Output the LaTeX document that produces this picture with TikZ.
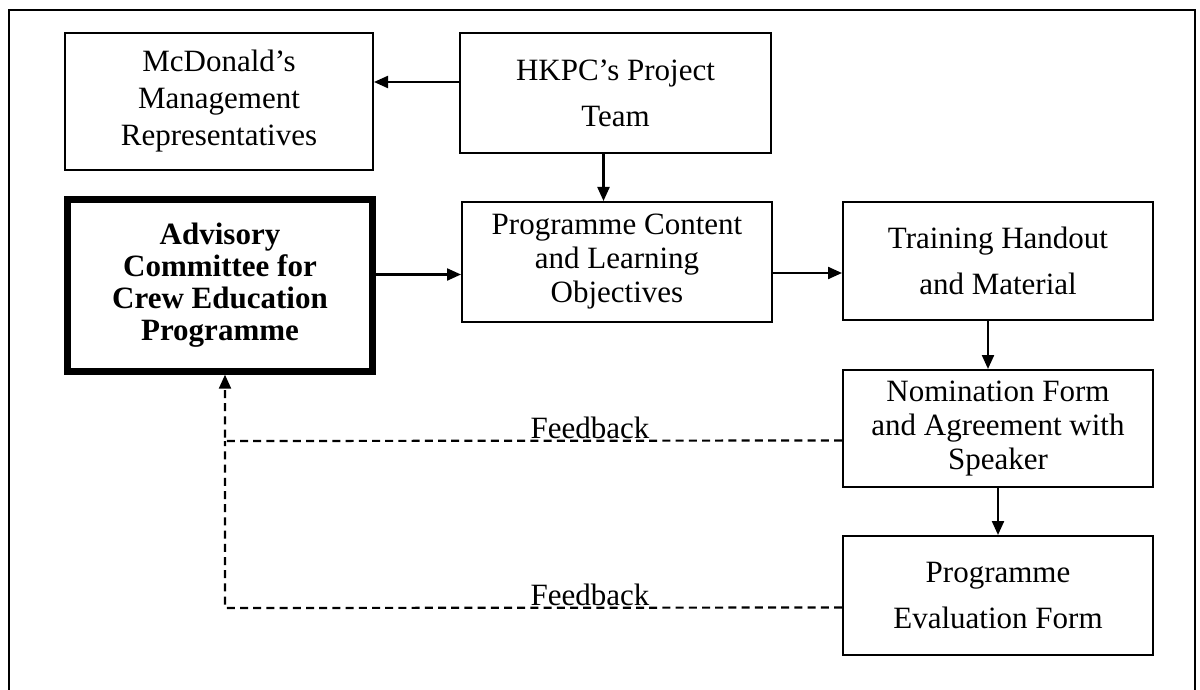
\documentclass[tikz,border=0pt]{standalone}
\usepackage{fontspec}
\setmainfont{Liberation Serif}
\usetikzlibrary{arrows.meta}
\tikzset{
  box/.style={draw, line width=1pt, align=center, inner sep=0pt,
    font=\fontsize{15.5pt}{17pt}\selectfont},
  thickbox/.style={box, line width=3.2pt, font=\fontsize{15.5pt}{16pt}\selectfont\bfseries},
  arr/.style={line width=1.1pt, -{Triangle[length=7pt,width=6pt]}},
  fb/.style={line width=1.1pt, dash pattern=on 4pt off 2.6pt},
  fbarr/.style={fb, -{Triangle[length=7pt,width=6pt]}},
  fblabel/.style={anchor=base, inner sep=0pt, font=\fontsize{15.5pt}{17pt}\selectfont}
}
\begin{document}
\begin{tikzpicture}[x=0.5pt,y=-0.5pt]
\useasboundingbox (0,0) rectangle (1200,690);
% outer frame
\draw[line width=1.1pt] (9,690) -- (9,10) -- (1195,10) -- (1195,690);

\node[box, minimum width=154pt, minimum height=68.5pt,
  font=\fontsize{15.5pt}{18.5pt}\selectfont] (mcd) at (219,101.5)
  {McDonald’s\\ Management\\ Representatives};
\node[box, minimum width=155.5pt, minimum height=60pt] (hkpc) at (615.5,93)
  {HKPC’s Project\\[6pt] Team};
\node[thickbox, minimum width=152.5pt, minimum height=86pt] (adv) at (220,285.5)
  {Advisory\\ Committee for\\ Crew Education\\ Programme};
\node[box, minimum width=155pt, minimum height=60pt] (prog) at (617,262)
  {Programme Content\\ and Learning\\ Objectives};
\node[box, minimum width=155pt, minimum height=59pt] (train) at (998,261)
  {Training Handout\\[6pt] and Material};
\node[box, minimum width=155pt, minimum height=58.5pt] (nom) at (998,428.5)
  {Nomination Form\\ and Agreement with\\ Speaker};
\node[box, minimum width=155pt, minimum height=59.5pt] (eval) at (998,595.5)
  {Programme\\[6pt] Evaluation Form};

% solid arrows
\draw[arr] ([yshift=5.5pt]hkpc.west) -- ([yshift=5.5pt]hkpc.west -| mcd.east);
\draw[arr] ([xshift=-6pt]hkpc.south) -- ([xshift=-6pt]hkpc.south |- prog.north);
\draw[arr] ([yshift=5.5pt]adv.east) -- ([yshift=5.5pt]adv.east -| prog.west);
\draw[arr] ([yshift=-5.5pt]prog.east) -- ([yshift=-5.5pt]prog.east -| train.west);
\draw[arr] ([xshift=-5pt]train.south) -- ([xshift=-5pt]train.south |- nom.north);
\draw[arr] (nom.south) -- (eval.north);

% feedback
\coordinate (c1) at (225,441);
\coordinate (c2) at (225,608);
\draw[fbarr] ([yshift=-6pt]nom.west) -- (c1) -- (c1 |- adv.south);
\draw[fb] ([yshift=-6pt]eval.west) -- (c2) -- (c1);
\node[fblabel] (fb1) at (590,438) {Feedback};
\node[fblabel] (fb2) at (590,605) {Feedback};
\end{tikzpicture}
\end{document}
